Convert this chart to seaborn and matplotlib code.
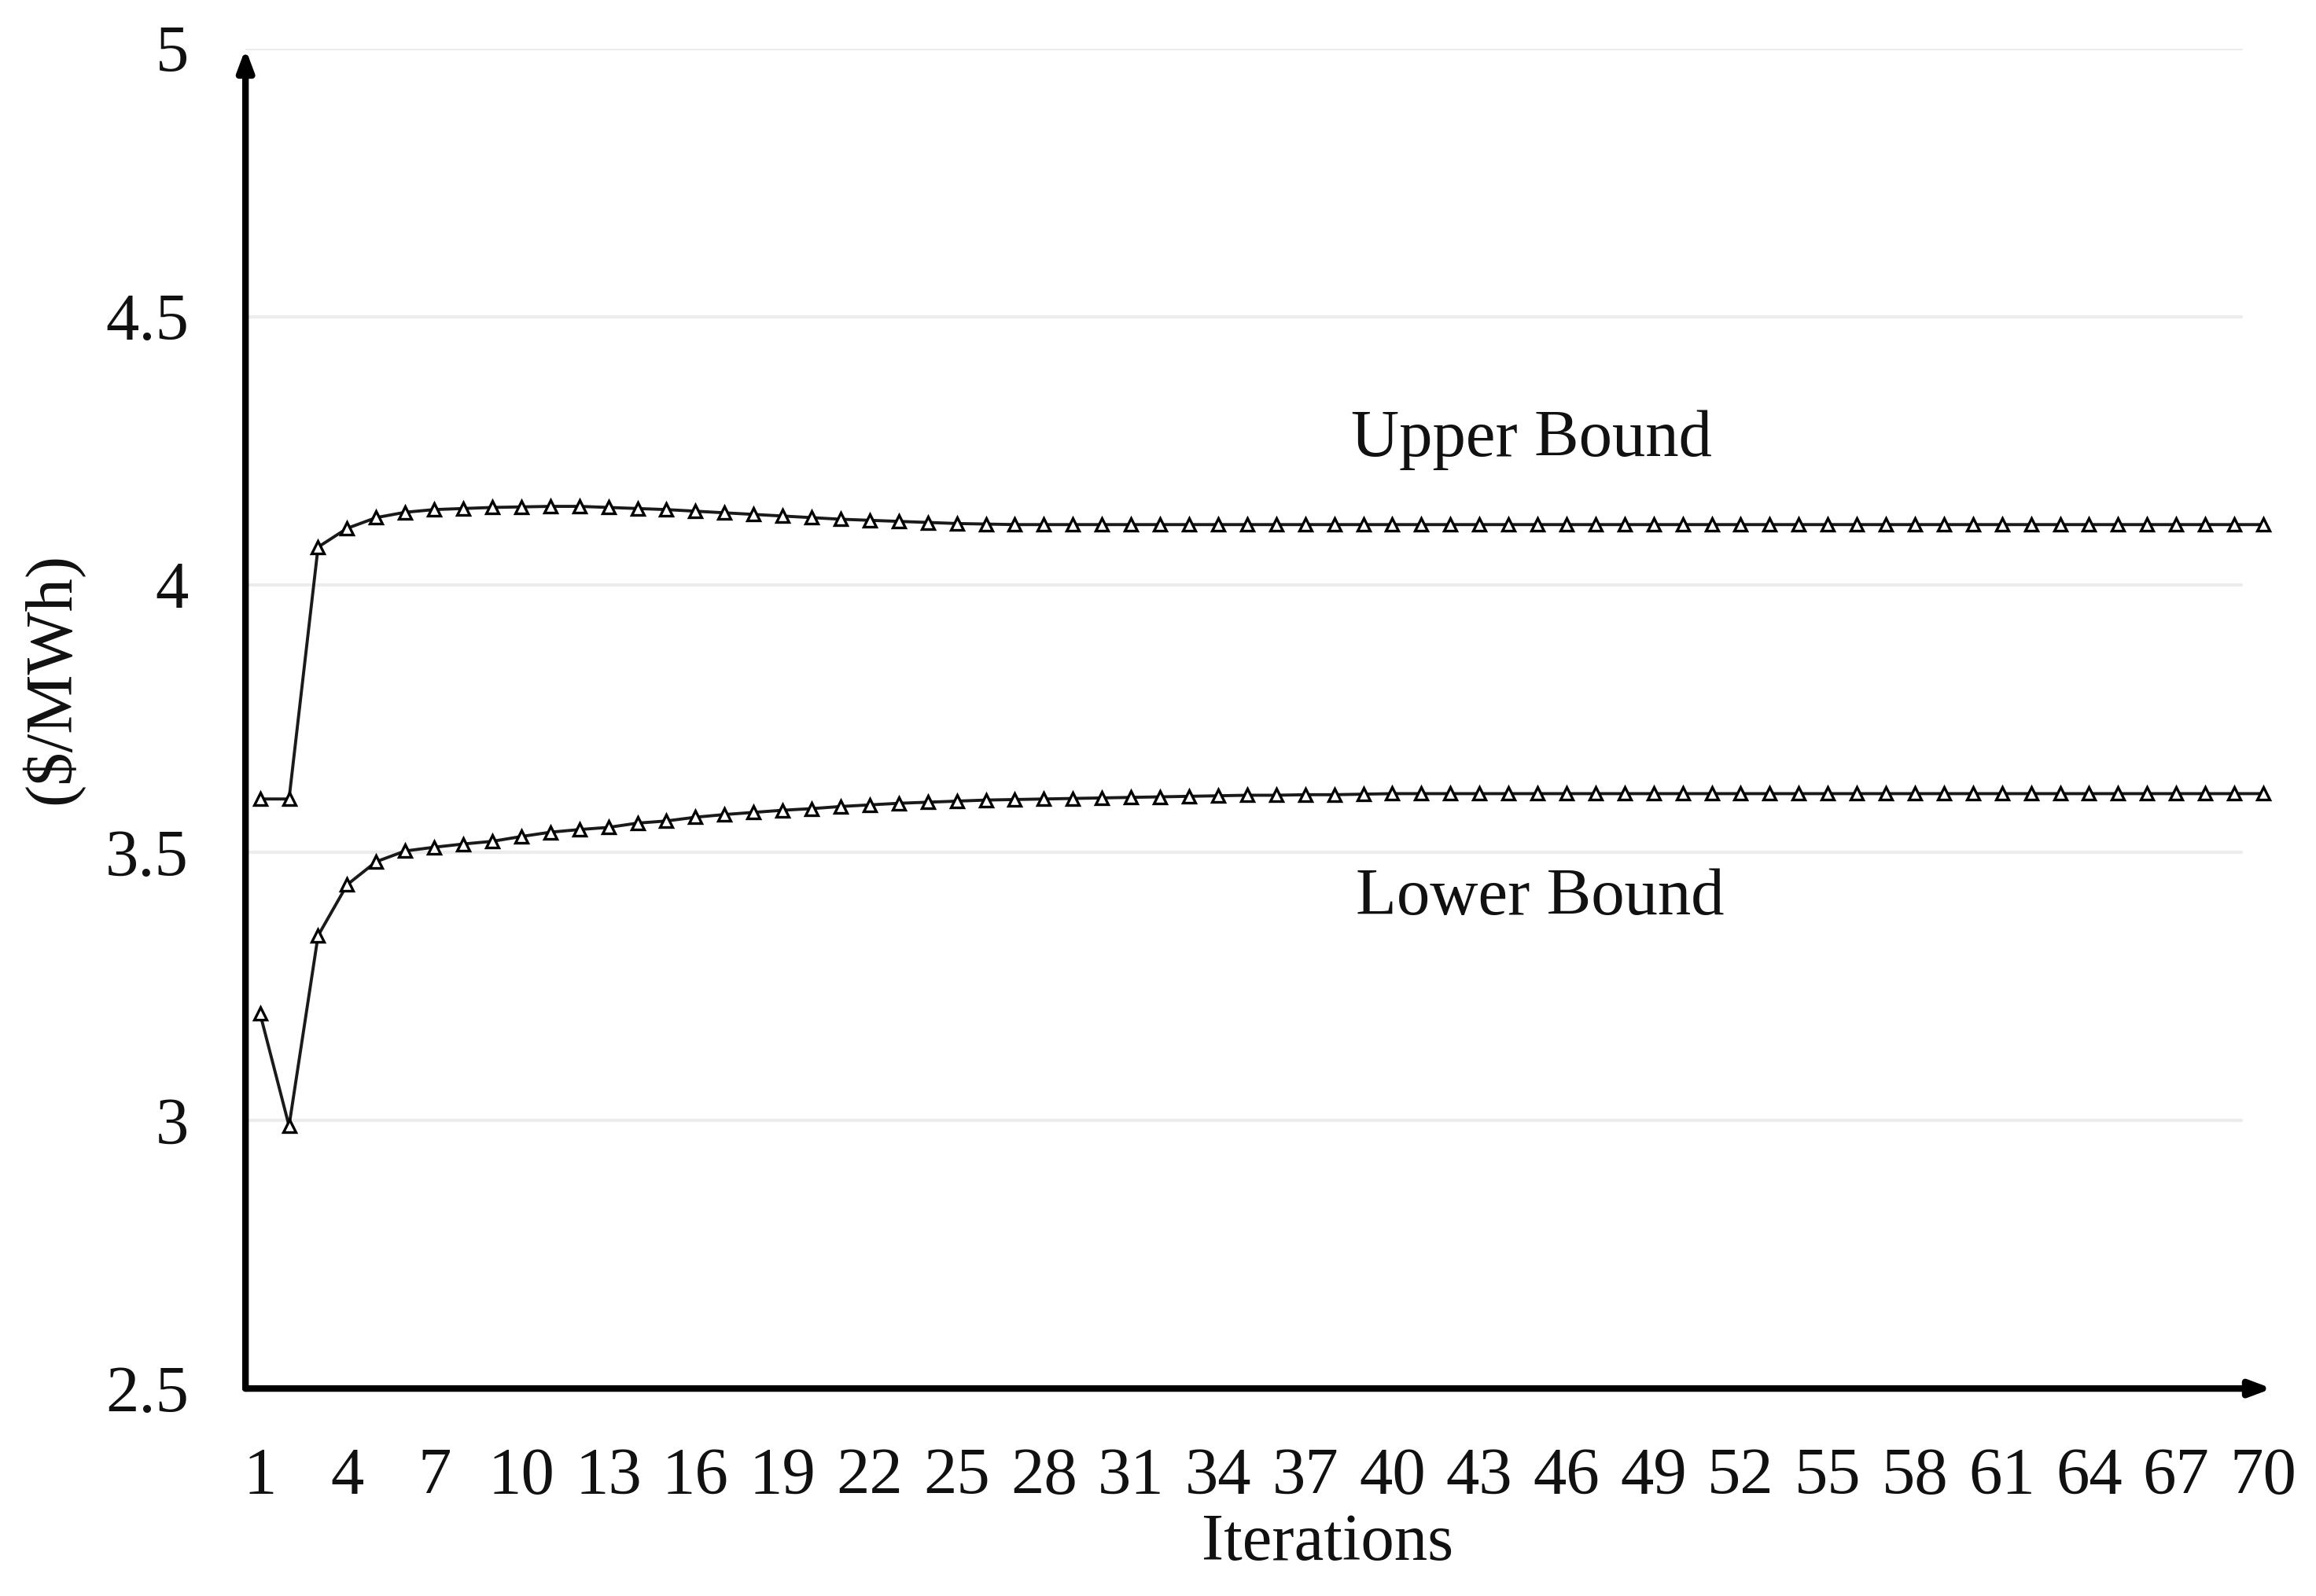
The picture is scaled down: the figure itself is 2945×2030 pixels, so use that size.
import pandas as pd
import matplotlib
matplotlib.use("Agg")
import matplotlib.pyplot as plt
import seaborn as sns

# valores
iteraciones = list(range(1, 71))
upper_bound = [3.60, 3.60, 4.07, 4.105, 4.125, 4.135, 4.14, 4.142, 4.144, 4.145,
               4.146, 4.146, 4.144, 4.142, 4.14, 4.137, 4.134, 4.131, 4.128, 4.125,
               4.122, 4.12, 4.118, 4.116, 4.114, 4.113] + [4.112] * 44
lower_bound = [3.20, 2.99, 3.345, 3.44, 3.483, 3.503, 3.51, 3.516, 3.521, 3.53,
               3.538, 3.543, 3.547, 3.555, 3.559, 3.566, 3.571, 3.575, 3.579, 3.582,
               3.586, 3.589, 3.592, 3.594, 3.596, 3.598, 3.599, 3.600, 3.601, 3.602,
               3.603, 3.604, 3.605, 3.606, 3.607, 3.607, 3.608, 3.608, 3.609] + [3.61] * 31
ticks_x = list(range(1, 71, 3))
ticks_y = [2.5, 3, 3.5, 4, 4.5, 5]
etiquetas_y = ["2.5", "3", "3.5", "4", "4.5", "5"]

df = pd.DataFrame({
    "Iterations": iteraciones * 2,
    "valor": upper_bound + lower_bound,
    "serie": ["Upper Bound"] * 70 + ["Lower Bound"] * 70,
})

sns.set_style("white")
plt.rcParams["font.family"] = ["Liberation Serif", "DejaVu Serif"]

fig = plt.figure(figsize=(29.45, 20.30), dpi=100)
ax = fig.add_axes([0.106, 0.130, 0.875, 0.8395])

# lineas de cuadricula suaves
for v in ticks_y[1:]:
    ax.axhline(v, xmax=0.985, color="#ececec", lw=3, zorder=0)

sns.lineplot(data=df, x="Iterations", y="valor", units="serie", estimator=None,
             color="#1a1a1a", lw=2.8, marker="^", markersize=12,
             markerfacecolor="white", markeredgecolor="black", markeredgewidth=2.4,
             ax=ax, zorder=3)

ax.set_xlim(0.5, 70.3)
ax.set_ylim(2.5, 5)
ax.set_xticks(ticks_x)
ax.set_xticklabels([str(t) for t in ticks_x], fontsize=61)
ax.set_yticks(ticks_y)
ax.set_yticklabels(etiquetas_y, fontsize=61)
ax.tick_params(axis="both", length=0, colors="#111111")
ax.tick_params(axis="x", pad=54)
ax.tick_params(axis="y", pad=52)
sns.despine(ax=ax, left=True, bottom=True)

# ejes con flechas
ax.annotate("", xy=(1, 0), xytext=(0, 0), xycoords="axes fraction",
            arrowprops=dict(arrowstyle="-|>,head_length=1.6,head_width=0.6",
                            color="black", lw=6, shrinkA=0, shrinkB=0), zorder=5)
ax.annotate("", xy=(0, 1), xytext=(0, 0), xycoords="axes fraction",
            arrowprops=dict(arrowstyle="-|>,head_length=1.6,head_width=0.6",
                            color="black", lw=6, shrinkA=0, shrinkB=0), zorder=5)

ax.set_xlabel("Iterations", fontsize=61, color="#111111")
ax.xaxis.set_label_coords(0.534, -0.093)
ax.set_ylabel("($/MWh)", fontsize=61, color="#111111")
ax.yaxis.set_label_coords(-0.08, 0.53)

ax.text(44.8, 4.27, "Upper Bound", fontsize=61, ha="center", va="center", color="#111111")
ax.text(45.1, 3.415, "Lower Bound", fontsize=61, ha="center", va="center", color="#111111")

fig.savefig("out.png", dpi=100)
